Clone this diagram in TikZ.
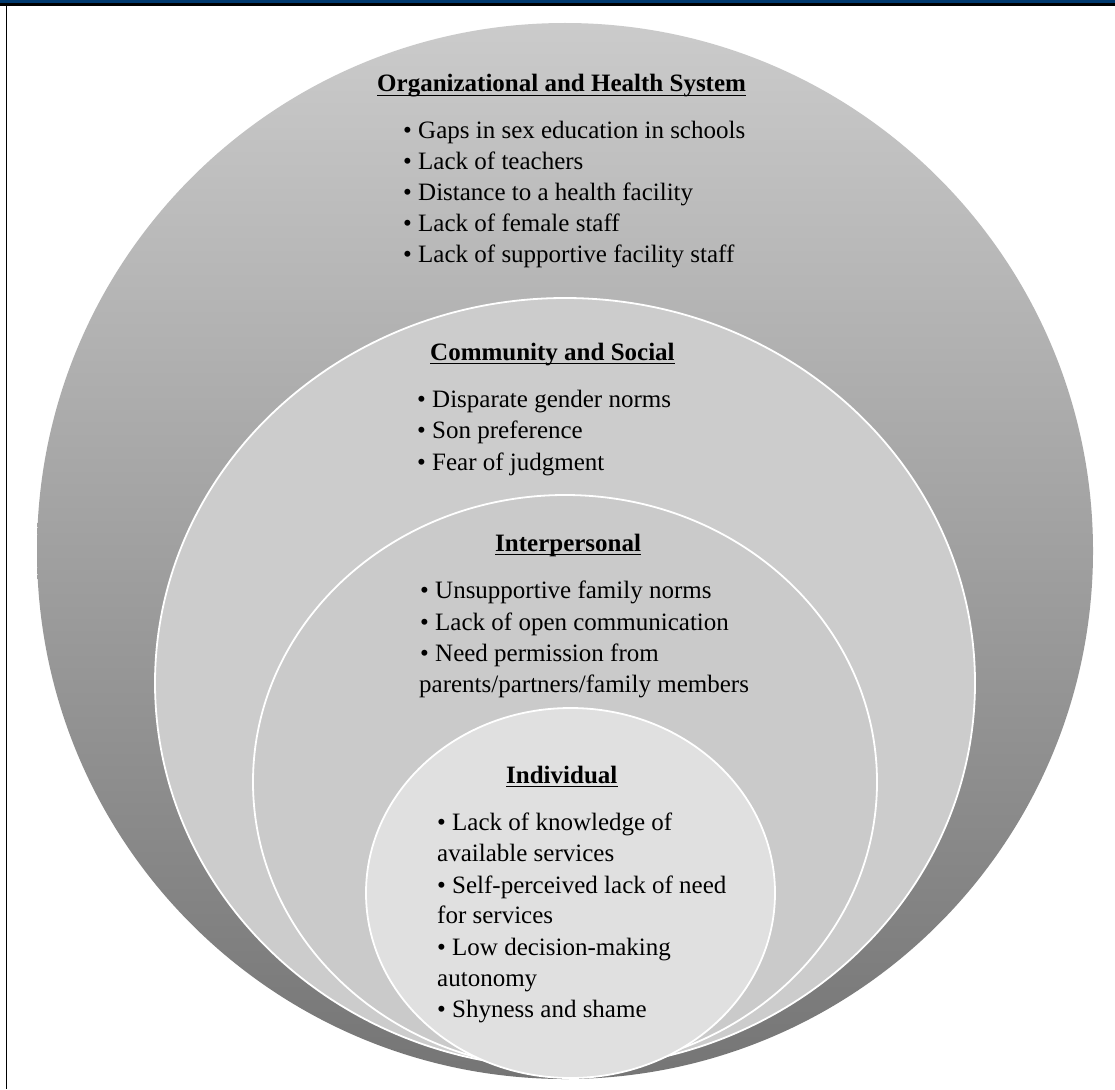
\documentclass[tikz,border=0pt]{standalone}
\usepackage{fontspec}
\setmainfont{Liberation Serif}
\definecolor{headblue}{RGB}{0,57,110}
\definecolor{outerTop}{RGB}{203,203,203}
\definecolor{outerMid}{RGB}{170,170,170}
\definecolor{outerBot}{RGB}{117,117,117}
\definecolor{ringFill}{RGB}{204,204,204}
\definecolor{innerFill}{RGB}{202,202,202}
\definecolor{coreFill}{RGB}{224,224,224}
\begin{document}
\begin{tikzpicture}[x=1pt,y=-1pt,
  ring/.style={draw=white, line width=1.8pt},
  heading/.style={anchor=base west, inner sep=0pt, font=\fontsize{25}{30}\selectfont\bfseries},
  item/.style={anchor=base west, inner sep=0pt, font=\fontsize{25}{30}\selectfont},
  uline/.style={line width=1.6pt}]
\useasboundingbox (0,0) rectangle (1115,1089);
\fill[white] (0,0) rectangle (1115,1089);
% header band and frame
\fill[headblue] (0,0) rectangle (1115,3.6);
\draw[line width=2.2pt] (0,4.6) -- (1115,4.6);
\draw[line width=1.7pt] (6.5,3.6) -- (6.5,1089);

% nested levels
\shade[top color=outerTop, middle color=outerMid, bottom color=outerBot]
  (565,551) circle [x radius=528pt, y radius=528pt];
\path[ring, fill=ringFill] (565,683) circle [x radius=410pt, y radius=385pt];
\path[ring, fill=innerFill] (565,782) circle [x radius=312pt, y radius=287pt];
\path[ring, fill=coreFill] (570.5,893) circle [x radius=204.5pt, y radius=185pt];

% Organizational and Health System
\node[heading] (ohs) at (377,92) {Organizational and Health System};
\draw[uline] ([yshift=-3.6pt]ohs.base west) -- ([yshift=-3.6pt]ohs.base east);
\node[item] (ohs1) at (403,138) {\textbullet\ Gaps in sex education in schools};
\node[item] (ohs2) at (403,169) {\textbullet\ Lack of teachers};
\node[item] (ohs3) at (403,200) {\textbullet\ Distance to a health facility};
\node[item] (ohs4) at (403,231) {\textbullet\ Lack of female staff};
\node[item] (ohs5) at (403,262) {\textbullet\ Lack of supportive facility staff};

% Community and Social
\node[heading] (cs) at (430,360) {Community and Social};
\draw[uline] ([yshift=-3.6pt]cs.base west) -- ([yshift=-3.6pt]cs.base east);
\node[item] (cs1) at (417,407) {\textbullet\ Disparate gender norms};
\node[item] (cs2) at (417,438.5) {\textbullet\ Son preference};
\node[item] (cs3) at (417,470) {\textbullet\ Fear of judgment};

% Interpersonal
\node[heading] (ip) at (495,551) {Interpersonal};
\draw[uline] ([yshift=-3.6pt]ip.base west) -- ([yshift=-3.6pt]ip.base east);
\node[item] (ip1) at (420,598) {\textbullet\ Unsupportive family norms};
\node[item] (ip2) at (420,630) {\textbullet\ Lack of open communication};
\node[item] (ip3) at (420,661) {\textbullet\ Need permission from};
\node[item] (ip4) at (419,692) {parents/partners/family members};

% Individual
\node[heading] (ind) at (506,783) {Individual};
\draw[uline] ([yshift=-3.6pt]ind.base west) -- ([yshift=-3.6pt]ind.base east);
\node[item] (ind1) at (437,830) {\textbullet\ Lack of knowledge of};
\node[item] (ind2) at (437,861) {available services};
\node[item] (ind3) at (437,893) {\textbullet\ Self-perceived lack of need};
\node[item] (ind4) at (437,923) {for services};
\node[item] (ind5) at (437,955) {\textbullet\ Low decision-making};
\node[item] (ind6) at (437,986) {autonomy};
\node[item] (ind7) at (437,1017) {\textbullet\ Shyness and shame};
\end{tikzpicture}
\end{document}
